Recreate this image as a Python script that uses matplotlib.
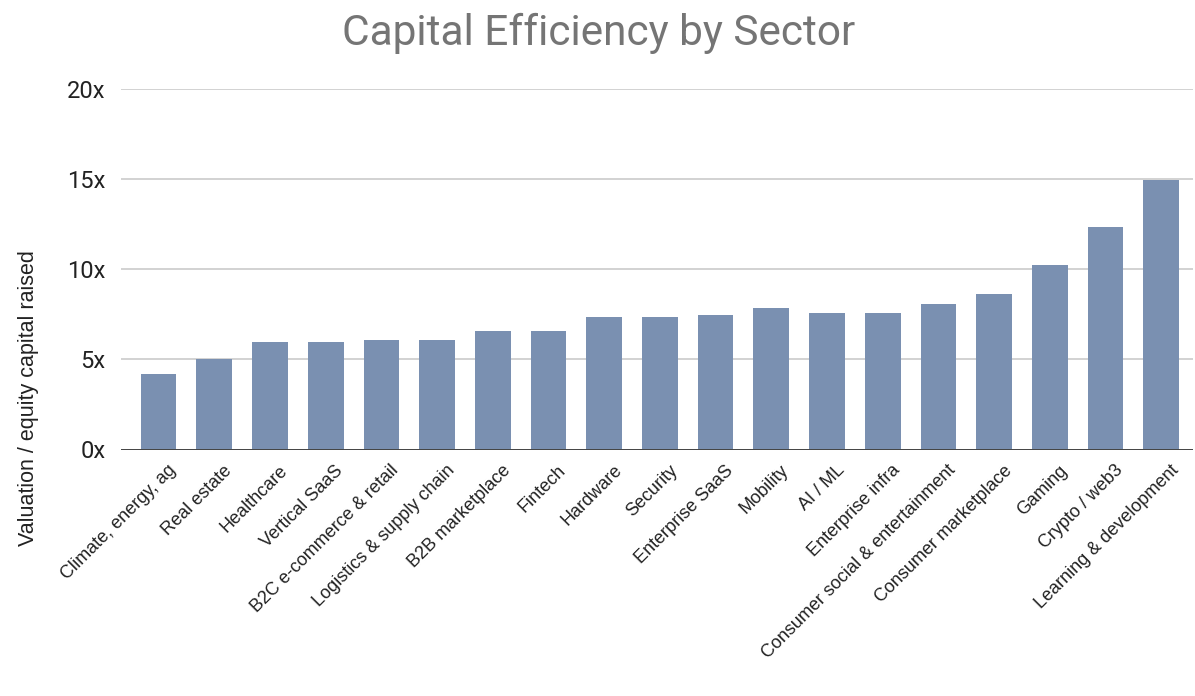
import matplotlib
matplotlib.use("Agg")
import matplotlib.pyplot as plt
from matplotlib.ticker import FixedLocator, FuncFormatter
from matplotlib.transforms import ScaledTranslation

sectors = [
    "Climate, energy, ag", "Real estate", "Healthcare", "Vertical SaaS",
    "B2C e-commerce & retail", "Logistics & supply chain", "B2B marketplace",
    "Fintech", "Hardware", "Security", "Enterprise SaaS", "Mobility",
    "AI / ML", "Enterprise infra", "Consumer social & entertainment",
    "Consumer marketplace", "Gaming", "Crypto / web3", "Learning & development",
]
multiples = [4.2, 5.0, 5.95, 5.95, 6.05, 6.05, 6.6, 6.55, 7.35, 7.35,
             7.45, 7.85, 7.6, 7.6, 8.05, 8.65, 10.25, 12.35, 14.95]
y_ticks = [0, 5, 10, 15, 20]

bar_color = "#7a90b1"

W, H = 1195, 696
fig = plt.figure(figsize=(W / 100, H / 100), dpi=100)
ax = fig.add_axes([120.7 / W, 1 - 449.5 / H, (1193 - 120.7) / W, (449.5 - 89) / H])

x = list(range(len(sectors)))
ax.bar(x, multiples, width=0.64, color=bar_color, zorder=3)

ax.set_ylim(0, 20)
ax.set_xlim(-0.68, len(sectors) - 1 + 0.57)
ax.yaxis.set_major_locator(FixedLocator(y_ticks))
ax.yaxis.set_major_formatter(FuncFormatter(lambda v, _: f"{int(v)}x"))
ax.grid(axis="y", color="#cfcfcf", linewidth=1.3, zorder=0)
ax.axhline(0, color="#444444", linewidth=1.4, zorder=4)

for side in ["top", "right", "left", "bottom"]:
    ax.spines[side].set_visible(False)

ax.tick_params(axis="y", length=0, pad=11, labelsize=17, labelcolor="#222222")
ax.tick_params(axis="x", length=0, pad=9)
for lbl in ax.get_yticklabels():
    lbl.set_fontfamily("Roboto")

ax.set_xticks(x)
ax.set_xticklabels(sectors, rotation=45, ha="right", rotation_mode="anchor",
                   fontsize=13, color="#222222", fontfamily="Liberation Sans")
shift = ScaledTranslation(9 / 100, 0, fig.dpi_scale_trans)
for lbl in ax.get_xticklabels():
    lbl.set_transform(lbl.get_transform() + shift)

# y-axis title placed in figure coordinates
fig.text(29 / W, 1 - 398 / H, "Valuation / equity capital raised", rotation=90,
         ha="center", va="center", fontsize=15.5, color="#222222",
         fontfamily="Liberation Sans")

fig.text(599 / W, 1 - 33 / H, "Capital Efficiency by Sector", ha="center", va="center",
         fontsize=30.5, color="#757575", fontfamily="Roboto")

fig.savefig("out.png", dpi=100, facecolor="white")
